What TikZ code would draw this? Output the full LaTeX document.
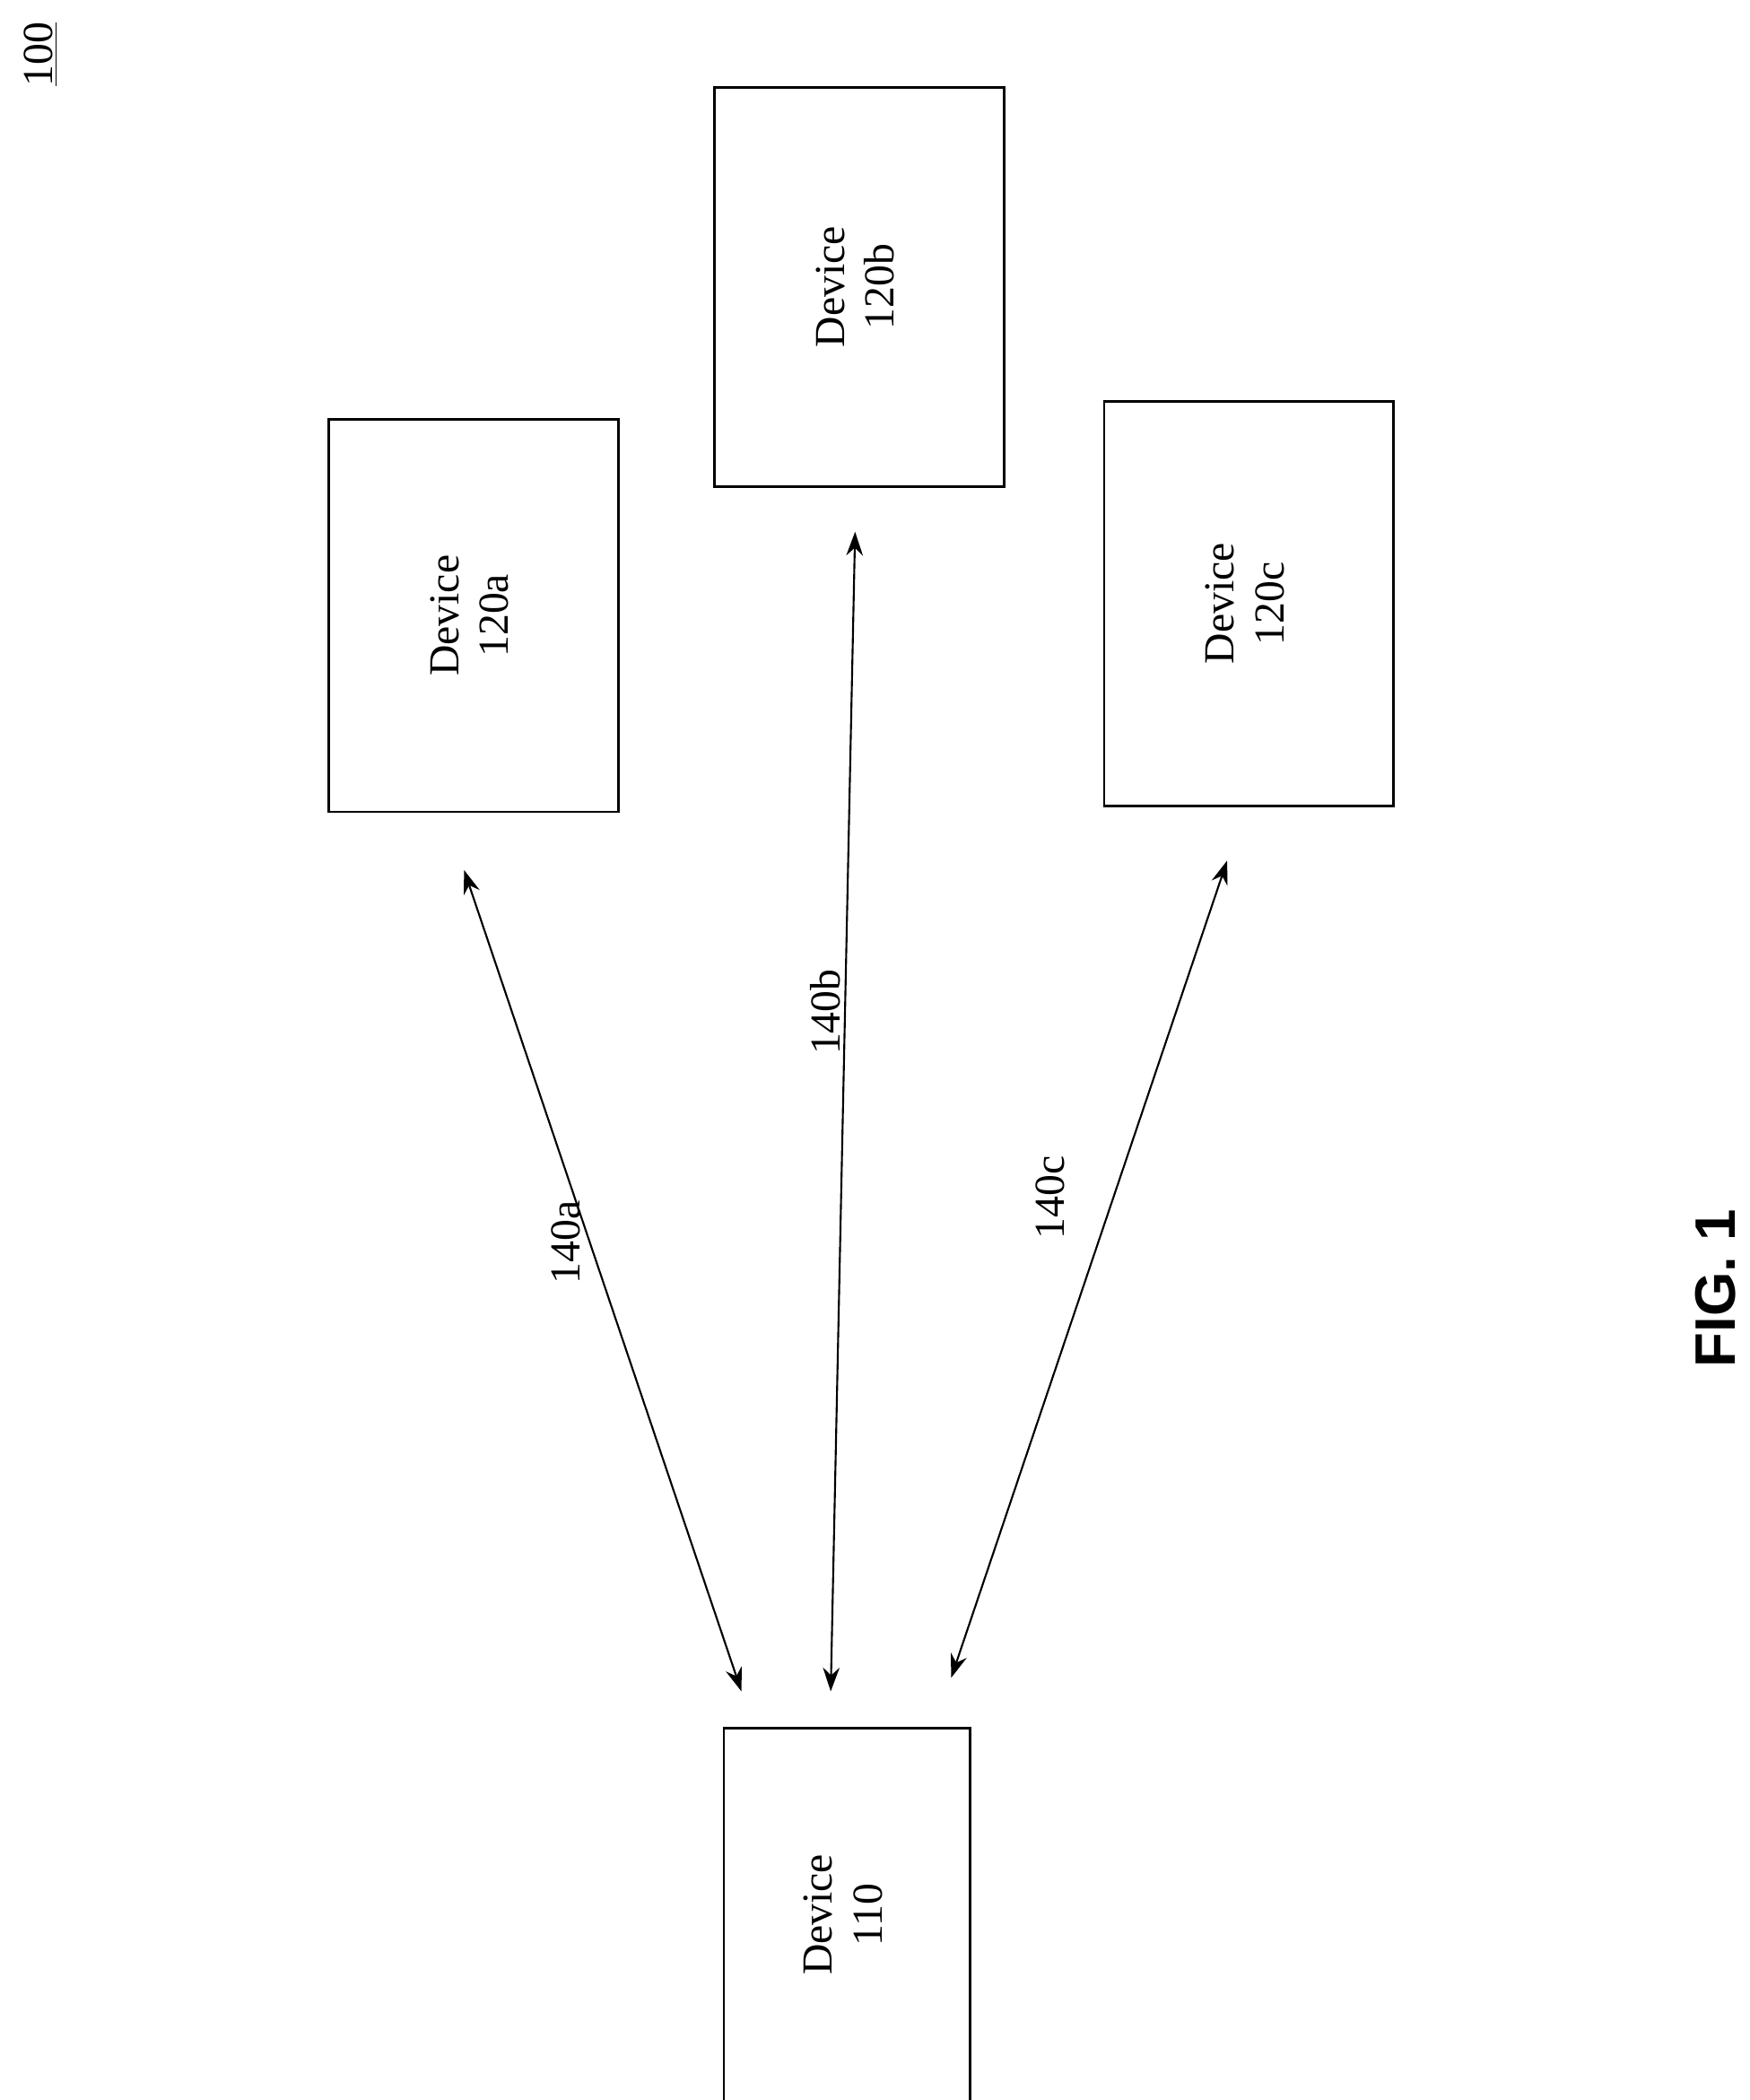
\documentclass[tikz,border=0pt]{standalone}
\usepackage{fontspec}
\setmainfont{Liberation Serif}
\setsansfont{Liberation Sans}
\usetikzlibrary{arrows.meta}
\begin{document}
\begin{tikzpicture}[x=0.02cm, y=-0.02cm, >={Stealth[length=10pt,width=7pt]}]
    \tikzstyle{device}=[draw=black, line width=1pt, font=\fontsize{18}{21}\selectfont, align=center, inner sep=0pt]
    \tikzstyle{link}=[<->, line width=0.8pt]
    \tikzstyle{lbl}=[rotate=90, font=\fontsize{18}{21}\selectfont]
    \useasboundingbox (0,0) rectangle (1293,1552);

    % Draw the devices
    \node[device, minimum width=214*0.02cm, minimum height=290*0.02cm] (D-a) at (350,455) {\rotatebox{90}{\begin{tabular}{c}Device\\120a\end{tabular}}};
    \node[device, minimum width=214*0.02cm, minimum height=295*0.02cm] (D-b) at (635,212) {\rotatebox{90}{\begin{tabular}{c}Device\\120b\end{tabular}}};
    \node[device, minimum width=214*0.02cm, minimum height=299*0.02cm] (D-c) at (923,446) {\rotatebox{90}{\begin{tabular}{c}Device\\120c\end{tabular}}};
    \node[device, minimum width=182*0.02cm, minimum height=276*0.02cm] (D-0) at (626,1415) {\rotatebox{90}{\begin{tabular}{c}Device\\110\end{tabular}}};

    % Free ends of the links
    \coordinate (a1) at (343,643);
    \coordinate (a2) at (548,1250);
    \coordinate (b1) at (632,393);
    \coordinate (b2) at (614,1250);
    \coordinate (c1) at (907,636);
    \coordinate (c2) at (703,1240);

    \draw[link] (a1) -- (a2);
    \draw[link] (b1) -- (b2);
    \draw[link] (c1) -- (c2);

    \node[lbl] (l-a) at (418,918) {140a};
    \node[lbl] (l-b) at (610,748) {140b};
    \node[lbl] (l-c) at (776,885) {140c};

    \node[lbl] (ref) at (30,40) {\underline{100}};
    \node[rotate=90, font=\fontsize{24}{28}\selectfont\sffamily\bfseries] (fig) at (1268,952) {FIG. 1};
\end{tikzpicture}
\end{document}
